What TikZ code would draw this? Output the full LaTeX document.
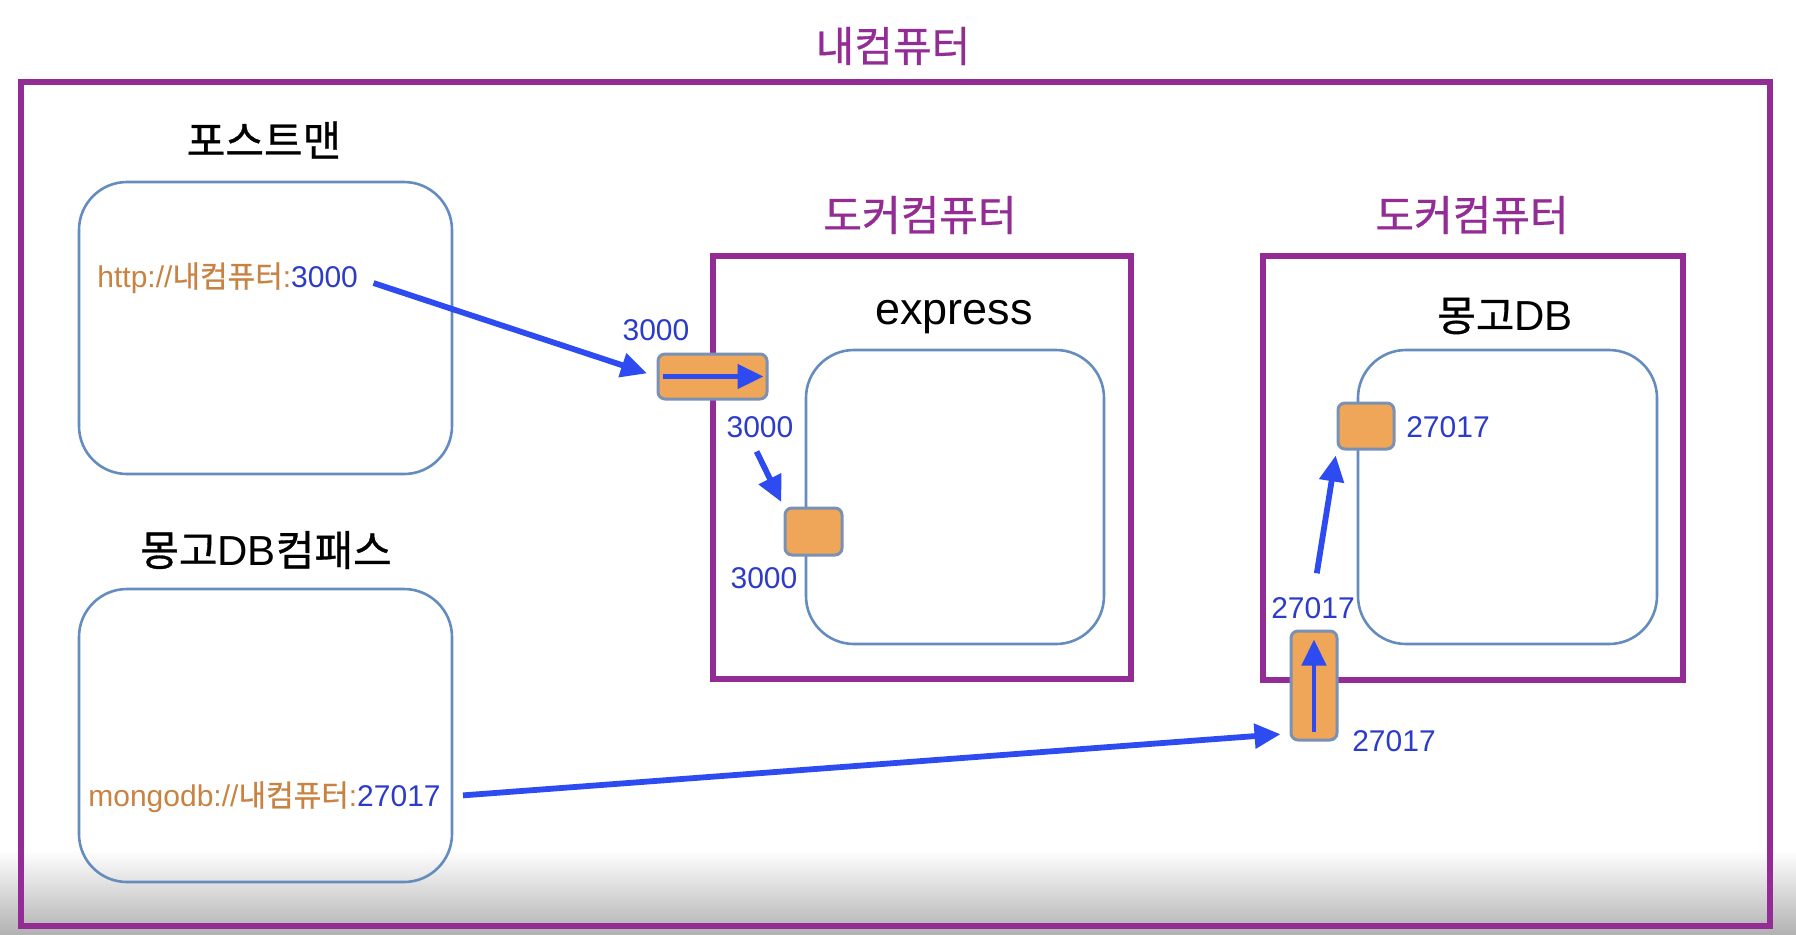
\documentclass[tikz,border=0pt]{standalone}
\usepackage{fontspec}
\setmainfont{Liberation Sans}
\newfontfamily\kor[FakeBold=0.8]{Noto Sans CJK KR}
\usetikzlibrary{arrows.meta}
\definecolor{dockpurple}{RGB}{148,44,150}
\definecolor{boxblue}{RGB}{100,140,190}
\definecolor{portorange}{RGB}{240,166,88}
\definecolor{portedge}{RGB}{120,145,180}
\definecolor{flowblue}{RGB}{45,75,240}
\definecolor{numblue}{RGB}{45,60,200}
\definecolor{urlorange}{RGB}{200,130,65}

\begin{document}
\begin{tikzpicture}[
    x=0.5pt, y=-0.5pt,
    big/.style={font=\fontsize{21}{25}\selectfont, inner sep=0pt},
    num/.style={font=\fontsize{15}{18}\selectfont, text=numblue, inner sep=0pt},
    url/.style={font=\fontsize{15}{18}\selectfont, text=urlorange, inner sep=0pt, anchor=west},
    appbox/.style={draw=boxblue, line width=1.3pt, rounded corners=24pt, inner sep=0pt},
    dockframe/.style={draw=dockpurple, line width=2.6pt, inner sep=0pt},
    port/.style={draw=portedge, fill=portorange, line width=1.5pt, rounded corners=3.5pt, inner sep=0pt},
    flow/.style={draw=flowblue, line width=2.9pt, -{Triangle[length=13pt,width=12pt]}},
    pass/.style={flow, line width=2.3pt}
]
\useasboundingbox (0,0) rectangle (1796,934);
\shade[top color=white, bottom color=black!30] (0,850) rectangle (1796,934);

% my computer
\node[big, text=dockpurple] (pc) at (893,46) {\kor 내컴퓨터};
\node[draw=dockpurple, line width=2.8pt, minimum width=874.5pt, minimum height=422pt, inner sep=0pt] (pcframe) at (895.5,504) {};

% clients
\node[big] (postlbl) at (264,140) {\kor 포스트맨};
\node[appbox, minimum width=186.5pt, minimum height=146pt] (postman) at (265.5,328) {};
\node[url] (posturl) at (97,278) {http://{\kor 내컴퓨터}:\textcolor{numblue}{3000}};

\node[big] (compasslbl) at (266,550) {{\kor 몽고}DB{\kor 컴패스}};
\node[appbox, minimum width=186.5pt, minimum height=146.5pt] (compass) at (265.5,735.5) {};
\node[url] (mongourl) at (88,797) {mongodb://{\kor 내컴퓨터}:\textcolor{numblue}{27017}};

% docker 1
\node[big, text=dockpurple] (dock1lbl) at (920,215) {\kor 도커컴퓨터};
\node[dockframe, minimum width=209pt, minimum height=211.5pt] (dock1) at (922,467.5) {};
\node[font=\fontsize{22.5}{27}\selectfont, inner sep=0pt] (expresslbl) at (954,317) {express};
\node[appbox, minimum width=149pt, minimum height=147pt] (express) at (955,497) {};

% docker 2
\node[big, text=dockpurple] (dock2lbl) at (1472,215) {\kor 도커컴퓨터};
\node[dockframe, minimum width=210pt, minimum height=212pt] (dock2) at (1473,468) {};
\node[big] (mongolbl) at (1505,316) {{\kor 몽고}DB};
\node[appbox, minimum width=149.5pt, minimum height=147pt] (mongo) at (1507.5,497) {};

% ports
\node[port, minimum width=54.5pt, minimum height=22.5pt] (portA) at (712.5,376.5) {};
\node[port, minimum width=28.5pt, minimum height=23.5pt] (portB) at (813.5,531.5) {};
\node[port, minimum width=28pt, minimum height=23pt] (portD) at (1366,426) {};
\node[port, minimum width=23pt, minimum height=54.5pt] (portV) at (1314,685.5) {};

\node[num] (lblA) at (656,330) {3000};
\node[num] (lblB) at (760,427) {3000};
\node[num] (lblC) at (764,578) {3000};
\node[num] (lblD) at (1448,427) {27017};
\node[num] (lblE) at (1313,608) {27017};
\node[num] (lblF) at (1394,741) {27017};

% flows
\draw[flow, shorten <=8pt, shorten >=5pt] (posturl.east) -- (portA.west);
\draw[pass, shorten <=3pt, shorten >=2.5pt] (portA.west) -- (portA.east);
\draw[flow, shorten <=7.5pt, shorten >=2.5pt] ([xshift=-5pt]lblB.south) -- (portB.north west);

\draw[flow, shorten <=11pt, shorten >=4.5pt] (mongourl.east) -- ([yshift=4pt]portV.south west);
\draw[pass, shorten <=5pt, shorten >=5pt] (portV.south) -- (portV.north);
\draw[flow, shorten <=12pt, shorten >=2.5pt] (lblE.north) -- (portD.south west);

\end{tikzpicture}
\end{document}
